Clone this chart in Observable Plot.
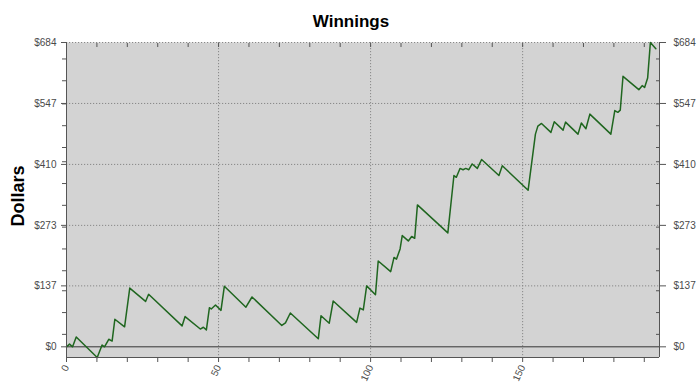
<!DOCTYPE html>
<html>
<head>
<meta charset="utf-8">
<script src="https://cdn.jsdelivr.net/npm/d3@7"></script>
<script src="https://cdn.jsdelivr.net/npm/@observablehq/plot@0.6"></script>
<style>
  html, body { margin: 0; padding: 0; background: #ffffff; }
  #chart { width: 700px; height: 386px; }
</style>
</head>
<body>
<div id="chart"></div>
<script>
// Vertices of the cumulative winnings line
const rounds = [0, 1, 2, 3.2, 10.1, 11.7, 12.5, 13.9, 15, 15.9, 19.1, 20.8, 26, 27, 38, 39, 44, 45, 46, 47, 47.6, 49, 50.8, 51.9,
  59, 61, 70.8, 72, 73.6, 82.8, 83.7, 86.4, 87.7, 95.4, 96.5, 97.6, 98.7, 101.6, 102.5, 106.6, 107.7, 108.5, 109.7, 110.4,
  112.4, 113.5, 114.5, 115.4, 125.4, 127.4, 128.2, 129.4, 130.4, 131.3, 132.3, 133.4, 135.1, 136.5, 142.2, 143.3, 151.8,
  154.2, 155, 156.2, 159.3, 160.4, 163.3, 164.1, 168.2, 169.3, 170.8, 172.1, 179, 180.3, 181.3, 182.1, 183, 188.2, 189.3,
  190.1, 191.1, 192, 193.8];
const dollars = [0, 6, 0, 22, -24, 4, 0, 17, 13, 62, 45, 132, 102, 118, 47, 68, 40, 44, 38, 88, 85, 94, 82, 136,
  89, 112, 48, 54, 76, 18, 70, 53, 103, 55, 87, 83, 137, 117, 193, 169, 201, 197, 220, 250,
  238, 248, 244, 319, 256, 385, 381, 401, 398, 401, 398, 411, 401, 421, 385, 407, 352,
  478, 496, 502, 482, 506, 487, 505, 478, 503, 490, 523, 478, 531, 527, 532, 608, 578, 587,
  583, 604, 684, 670];

const xDomain = [0, 195];
const yDomain = [-24, 684];
const xTicks = [0, 10, 20, 30, 40, 50, 60, 70, 80, 90, 100, 110, 120, 130, 140, 150, 160, 170, 180, 190];
const xLabelTicks = [0, 50, 100, 150];
const yLabelTicks = [0, 137, 273, 410, 547, 684];
const yMinorTicks = [28, 77, 126, 171, 220, 269, 318, 367, 416, 448, 497, 546, 598, 647];

const lineData = rounds.map((r, i) => ({round: r, dollars: dollars[i]}));

const chart = Plot.plot({
  width: 700,
  height: 386,
  marginTop: 42,
  marginBottom: 29,
  marginLeft: 66,
  marginRight: 41,
  style: {fontFamily: "'Liberation Sans', Arial, sans-serif", fontSize: "10px", color: "#4a4a4a", background: "#ffffff", overflow: "visible"},
  x: {domain: xDomain},
  y: {domain: yDomain},
  marks: [
    Plot.frame({fill: "#d3d3d3", stroke: null}),
    Plot.ruleY(yLabelTicks.filter(d => d > 0), {stroke: "#888", strokeDasharray: "1.2,1.8"}),
    Plot.ruleX(xLabelTicks.filter(d => d > 0), {stroke: "#888", strokeDasharray: "1.2,1.8"}),
    Plot.ruleY([0], {stroke: "#333", strokeWidth: 1}),
    Plot.line(lineData, {x: "round", y: "dollars", stroke: "#1f661f", strokeWidth: 1.5}),
    Plot.ruleX(xDomain, {stroke: "#555"}),
    Plot.ruleY([yDomain[0]], {stroke: "#555"}),
    // left axis
    Plot.axisY({anchor: "left", ticks: yLabelTicks, tickFormat: d => "$" + d, tickSize: 5, tickPadding: 5, label: null, stroke: "#555"}),
    Plot.axisY({anchor: "left", ticks: yMinorTicks, tickFormat: () => "", tickSize: 4, label: null, stroke: "#555"}),
    // right axis
    Plot.axisY({anchor: "right", ticks: yLabelTicks, tickFormat: d => "$" + d, tickSize: 6, tickPadding: 8, label: null, stroke: "#555"}),
    Plot.axisY({anchor: "right", ticks: yMinorTicks, tickFormat: () => "", tickSize: -4, label: null, stroke: "#555"}),
    // bottom axis
    Plot.axisX({anchor: "bottom", ticks: xTicks, tickFormat: d => xLabelTicks.includes(d) ? String(d) : "", tickSize: 5, tickPadding: 3, tickRotate: -65, label: null, stroke: "#555"}),
    // top inward ticks
    Plot.axisX({anchor: "top", ticks: xTicks, tickFormat: () => "", tickSize: -4, label: null, stroke: "#555"}),
    // title and y label
    Plot.text(["Winnings"], {frameAnchor: "top", dx: -12, dy: -28, fontSize: 17, fontWeight: "bold", fill: "#000"}),
    Plot.text(["Dollars"], {frameAnchor: "left", textAnchor: "middle", dx: -48, dy: -4, rotate: -90, fontSize: 18, fontWeight: "bold", fill: "#000"})
  ]
});
document.getElementById("chart").appendChild(chart);
</script>
</body>
</html>
